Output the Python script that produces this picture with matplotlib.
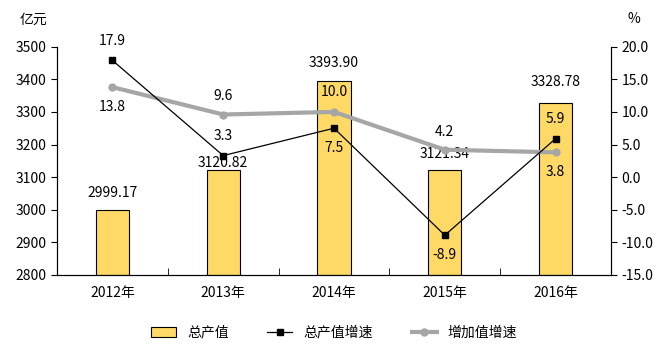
import numpy as np
import matplotlib.pyplot as plt

plt.rcParams['font.family'] = ['Noto Sans CJK SC', 'DejaVu Sans']

# ---- data ----
years = ['2012年', '2013年', '2014年', '2015年', '2016年']
output_value = [2999.17, 3120.82, 3393.90, 3121.34, 3328.78]   # 总产值 (亿元)
output_growth = [17.9, 3.3, 7.5, -8.9, 5.9]                   # 总产值增速 (%)
added_growth = [13.8, 9.6, 10.0, 4.2, 3.8]                    # 增加值增速 (%)

# label placement (offset in points above / below the mark)
bar_offsets = [12, 5, 13, 12, 15]
growth_offsets = [14, 14, -14, -14, 14]
added_offsets = [-14, 13, 14, 13, -14]

bar_color = '#FFD966'
gray = '#A6A6A6'

fig = plt.figure(figsize=(6.68, 3.52), dpi=100)
ax = fig.add_axes([0.0853, 0.2188, 0.8294, 0.6486])
ax2 = ax.twinx()

x = np.arange(len(years))
ax.bar(x, [v - 2800 for v in output_value], bottom=2800, width=0.3,
       color=bar_color, edgecolor='black', linewidth=0.8, label='总产值', zorder=2)
for xi, v, off in zip(x, output_value, bar_offsets):
    ax.annotate(f'{v:.2f}', (xi, v), xytext=(0, off), textcoords='offset points',
                ha='center', va='center', fontsize=10)

ax.set_xlim(-0.5, len(years) - 0.5)
ax.set_ylim(2800, 3500)
ax.set_yticks(np.arange(2800, 3501, 100))
ax.set_xticks(x)
ax.set_xticklabels(years, fontsize=10)
ax.set_xticks(np.arange(0.5, len(years) - 0.5, 1), minor=True)
ax.tick_params(axis='x', which='major', length=0, pad=8)
ax.tick_params(axis='x', which='minor', direction='in', length=5)
ax.tick_params(axis='y', direction='out', length=4, labelsize=10)
ax.spines['top'].set_visible(False)

ax2.plot(x, added_growth, color=gray, linewidth=3, marker='o', markersize=5,
         label='增加值增速', zorder=3)
ax2.plot(x, output_growth, color='black', linewidth=0.9, marker='s', markersize=5,
         label='总产值增速', zorder=4)
for xi, v, off in zip(x, output_growth, growth_offsets):
    ax2.annotate(f'{v:.1f}', (xi, v), xytext=(0, off), textcoords='offset points',
                 ha='center', va='center', fontsize=10)
for xi, v, off in zip(x, added_growth, added_offsets):
    ax2.annotate(f'{v:.1f}', (xi, v), xytext=(0, off), textcoords='offset points',
                 ha='center', va='center', fontsize=10)

ax2.set_ylim(-15, 20)
ax2.set_yticks(np.arange(-15, 20.1, 5))
ax2.set_yticklabels([f'{t:.1f}' for t in np.arange(-15, 20.1, 5)])
ax2.tick_params(axis='y', direction='out', length=4, labelsize=10)
ax2.spines['top'].set_visible(False)

fig.text(0.03, 0.945, '亿元', fontsize=10, va='center')
fig.text(0.94, 0.945, '%', fontsize=10, va='center')

h1, l1 = ax.get_legend_handles_labels()
h2, l2 = ax2.get_legend_handles_labels()
handles = [h1[0], h2[1], h2[0]]
labels = [l1[0], l2[1], l2[0]]
fig.legend(handles, labels, loc='center', bbox_to_anchor=(0.5, 0.055), ncol=3,
           frameon=False, fontsize=10, handlelength=1.8, columnspacing=2.8)

fig.savefig('out.png', dpi=100)
